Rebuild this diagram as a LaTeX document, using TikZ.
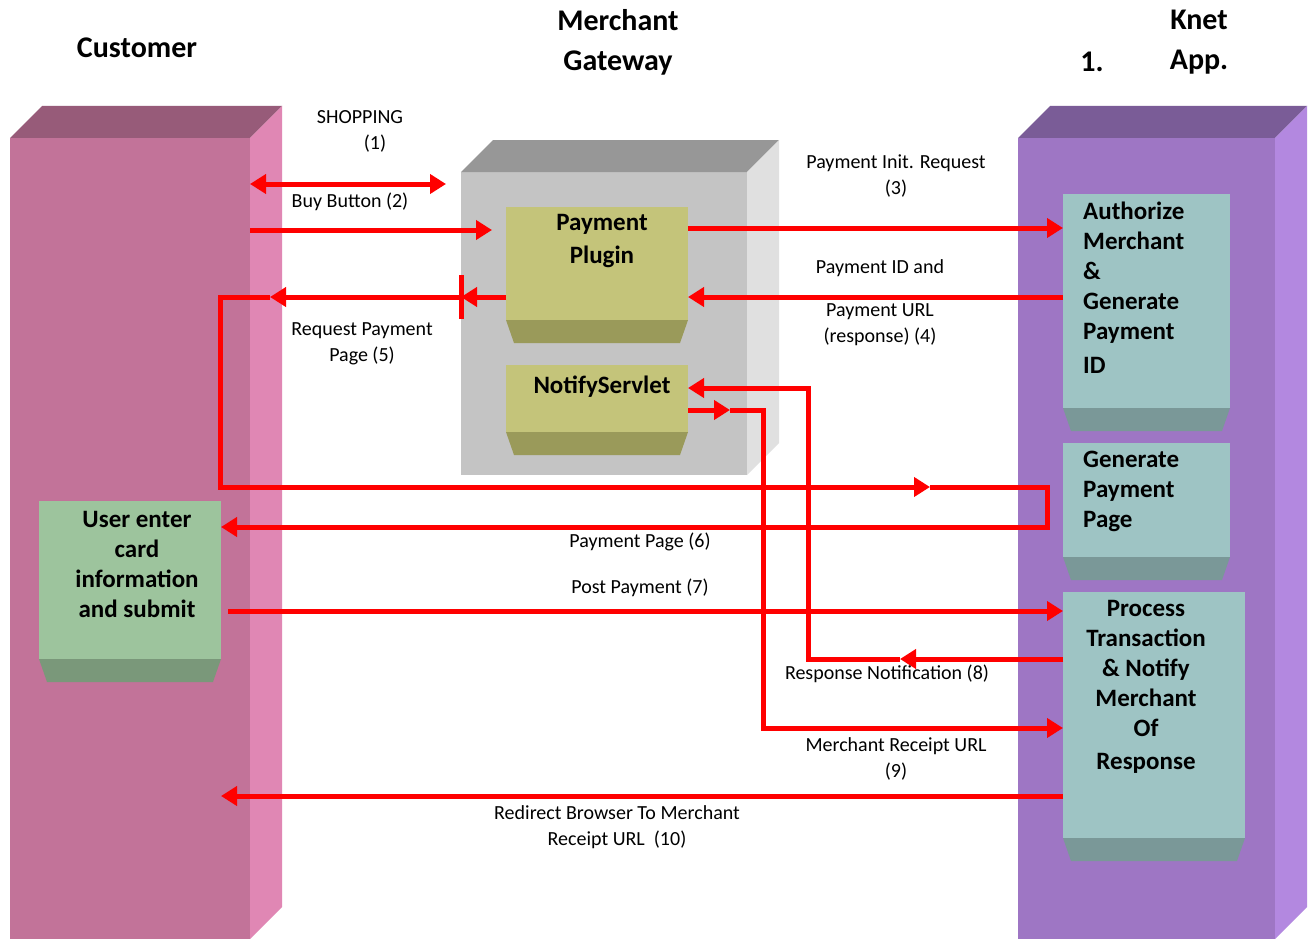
\documentclass[tikz,border=0pt]{standalone}
\usepackage{fontspec}
\setmainfont{Carlito}
\usepackage{xcolor}
\usepackage{tikz}
\usetikzlibrary{calc}
\usetikzlibrary{arrows.meta}

\definecolor{custfront}{HTML}{C27399}
\definecolor{custtop}{HTML}{975B79}
\definecolor{custside}{HTML}{E087B4}
\definecolor{knetfront}{HTML}{9E76C4}
\definecolor{knettop}{HTML}{7A5C97}
\definecolor{knetside}{HTML}{B388E0}
\definecolor{gatefront}{HTML}{C4C4C4}
\definecolor{gatetop}{HTML}{979797}
\definecolor{gateside}{HTML}{E0E0E0}
\definecolor{plugfront}{HTML}{C4C47A}
\definecolor{plugbevel}{HTML}{9A9A5A}
\definecolor{tealfront}{HTML}{9EC4C4}
\definecolor{tealbevel}{HTML}{7A9898}
\definecolor{greenfront}{HTML}{9DC49D}
\definecolor{greenbevel}{HTML}{7A987A}

\tikzset{
  face/.style={anchor=north west, inner sep=0pt, outer sep=0pt},
  flow/.style={red, line width=5pt, >={Triangle[length=16pt,width=19pt]}},
  lbl/.style={font=\fontsize{20}{26}\selectfont, inner sep=0pt, align=center},
  boxtxt/.style={font=\bfseries\fontsize{25}{30}\selectfont, inner sep=0pt},
  hdr/.style={font=\bfseries\fontsize{30}{40}\selectfont, inner sep=0pt, align=center},
}

% top and side faces of a slab
\newcommand{\slabsides}[3]{%
  \fill[#2] (#1.north west) -- ++(32,-32) -- ($(#1.north east)+(32,-32)$) -- (#1.north east) -- cycle;
  \fill[#3] (#1.north east) -- ++(32,-32) -- ($(#1.south east)+(32,-32)$) -- (#1.south east) -- cycle;}
% bottom bevel of a box
\newcommand{\boxbevel}[2]{%
  \fill[#2] (#1.south west) -- (#1.south east) -- ++(-8,23) -- ($(#1.south west)+(8,23)$) -- cycle;}

\begin{document}
\begin{tikzpicture}[x=1pt,y=-1pt]
\fill[white] (0,0) rectangle (1311,939);
\useasboundingbox (0,0) rectangle (1311,939);

% Headers
\node[hdr] (hcust) at (137,48) {Customer};
\node[hdr] (hgate) at (618,42) {Merchant\\Gateway};
\node[hdr] (hknet) at (1199,42) {Knet\\App.};
\node[hdr] (hnum) at (1092,62) {1.};

% Columns
\node[face, fill=custfront, minimum width=240pt, minimum height=801pt] (cust) at (10,138) {};
\slabsides{cust}{custtop}{custside}
\node[face, fill=knetfront, minimum width=257pt, minimum height=801pt] (knet) at (1018,138) {};
\slabsides{knet}{knettop}{knetside}
\node[face, fill=gatefront, minimum width=286pt, minimum height=303pt] (gate) at (461,172) {};
\slabsides{gate}{gatetop}{gateside}

% Boxes
\node[face, fill=plugfront, minimum width=182pt, minimum height=113pt] (plugin) at (506,207) {};
\boxbevel{plugin}{plugbevel}
\node[face, fill=plugfront, minimum width=182pt, minimum height=67pt] (servlet) at (506,365) {};
\boxbevel{servlet}{plugbevel}
\node[face, fill=tealfront, minimum width=167pt, minimum height=214pt] (auth) at (1063,194) {};
\boxbevel{auth}{tealbevel}
\node[face, fill=tealfront, minimum width=167pt, minimum height=114pt] (genpage) at (1063,443) {};
\boxbevel{genpage}{tealbevel}
\node[face, fill=tealfront, minimum width=182pt, minimum height=246pt] (process) at (1063,592) {};
\boxbevel{process}{tealbevel}
\node[face, fill=greenfront, minimum width=182pt, minimum height=158pt] (userbox) at (39,501) {};
\boxbevel{userbox}{greenbevel}

% Box texts
\node[boxtxt, align=center] (plugintxt) at (602,241) {Payment\\[3pt]Plugin};
\node[boxtxt] (servlettxt) at (602,387) {NotifyServlet};
\node[boxtxt, align=left, anchor=west] (authtxt) at (1083,288) {Authorize\\Merchant\\\&\\Generate\\Payment\\[4pt]ID};
\node[boxtxt, align=left, anchor=west] (genpagetxt) at (1083,491) {Generate\\Payment\\Page};
\node[boxtxt, align=center] (processtxt) at (1146,687) {Process\\Transaction\\\& Notify\\Merchant\\Of\\[3pt]Response};
\node[boxtxt, align=center] (usertxt) at (137,564) {User enter\\card\\information\\and submit};

% (1) shopping and (2) buy button
\coordinate (shopend) at (446,184);
\draw[flow,<->] (cust.east |- shopend) -- (shopend);
\coordinate (buyend) at (492,230);
\draw[flow,->] (cust.east |- buyend) -- (buyend);

% (3) and (4)
\draw[flow,->] (plugin.east |- 0,228) -- (auth.west |- 0,228);
\draw[flow,->] (auth.west |- 0,297) -- (plugin.east |- 0,297);

% (5) request payment page, (6) payment page
\draw[flow,->] (plugin.west |- 0,297) -- (gate.west |- 0,297);
\draw[flow] (gate.west |- 0,275) -- (gate.west |- 0,319);
\coordinate (reqmid) at (270,297);
\coordinate (loopmid) at (930,487);
\draw[flow,->] (gate.west |- 0,297) -- (reqmid);
\draw[flow,->] (reqmid) -- (220,297) -- (220,487) -- (loopmid);
\draw[flow,->] (loopmid) -- (1047,487) -- (1047,527) -- (userbox.east |- 0,527);

% (7) post payment
\draw[flow,->] ([xshift=7pt]userbox.east |- 0,611) -- (process.west |- 0,611);

% (8) response notification
\coordinate (notemid) at (900,659);
\draw[flow,->] (process.west |- notemid) -- (notemid);
\draw[flow,->] (notemid) -- (808,659) -- (808,388) -- (servlet.east |- 0,388);

% (9) merchant receipt url
\coordinate (rcptmid) at (730,410);
\draw[flow,->] (servlet.east |- rcptmid) -- (rcptmid);
\draw[flow,->] (rcptmid) -- (763,410) -- (763,728) -- (process.west |- 0,728);

% (10) redirect
\draw[flow,->] (process.west |- 0,796) -- (userbox.east |- 0,796);

% Labels
\node[lbl] (lshop) at (360,117) {SHOPPING};
\node[lbl] (lshopn) at (375,144) {(1)};
\node[lbl] (lbuy) at (350,202) {Buy Button (2)};
\node[lbl] (linit) at (896,176) {Payment Init. Request\\(3)};
\node[lbl] (lid) at (880,268) {Payment ID and};
\node[lbl] (lurl) at (880,325) {Payment URL\\(response) (4)};
\node[lbl] (lreq) at (362,344) {Request Payment\\Page (5)};
\node[lbl] (lpage) at (640,542) {Payment Page (6)};
\node[lbl] (lpost) at (640,588) {Post Payment (7)};
\node[lbl] (lnote) at (887,674) {Response Notification (8)};
\node[lbl] (lrcpt) at (896,759) {Merchant Receipt URL\\(9)};
\node[lbl] (lredir) at (617,827) {Redirect Browser To Merchant\\Receipt URL~~(10)};
\end{tikzpicture}
\end{document}
